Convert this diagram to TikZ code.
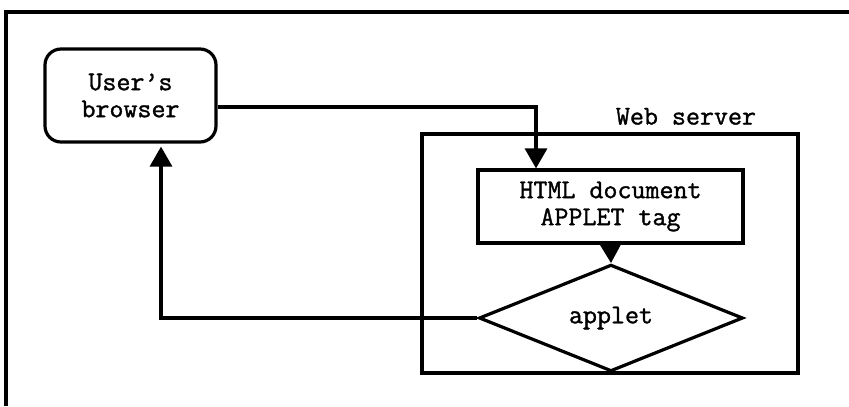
\documentclass[tikz,border=0pt]{standalone}
\usepackage{fontspec}
\setmonofont[BoldFont={Latin Modern Mono}, BoldFeatures={FakeBold=1.2}]{Latin Modern Mono}
\usepackage{tikz}
\usetikzlibrary{positioning, calc, arrows.meta, shapes.geometric}

\begin{document}
\begin{tikzpicture}[x=0.5pt, y=-0.5pt,
	    line width=1.6pt,
	    every node/.style={font=\ttfamily\bfseries\fontsize{13.6}{13.5}\selectfont, align=center},
	    box/.style={draw, rectangle, inner sep=0pt},
	    flow/.style={-{Triangle[length=10pt, width=11pt]}}]
	    \useasboundingbox (0,0) rectangle (849,406);
	    % frame
	    \draw (6,406) -- (6,12) -- (849,12);
	    \node[box, rounded corners=8pt, minimum width=85.5pt, minimum height=46.5pt] at (130.5,95.5) (browser) {User’s\\browser};
	    \node[box, minimum width=188pt, minimum height=119.5pt] at (610,253.5) (server) {};
	    \node[above left=3pt and 21pt of server.north east, inner sep=0pt] (serverlabel) {Web server};
	    \node[box, minimum width=132.5pt, minimum height=36.5pt] at (610.5,206.5) (html) {HTML document\\APPLET tag};
	    \node[draw, diamond, fill=white, inner sep=0pt, minimum width=132pt, minimum height=39pt] at (611,318) (applet) {applet};
	    \coordinate (bend) at (536,107);
	    \coordinate (back) at (161,318);
	    \draw[flow] (browser.east |- bend) -- (bend) -- (html.north -| bend);
	    \draw[flow] (html.south) -- (applet.north);
	    \draw[flow] (applet.west) -- (back) -- ($(browser.south -| back)+(0,3)$);
\end{tikzpicture}
\end{document}
